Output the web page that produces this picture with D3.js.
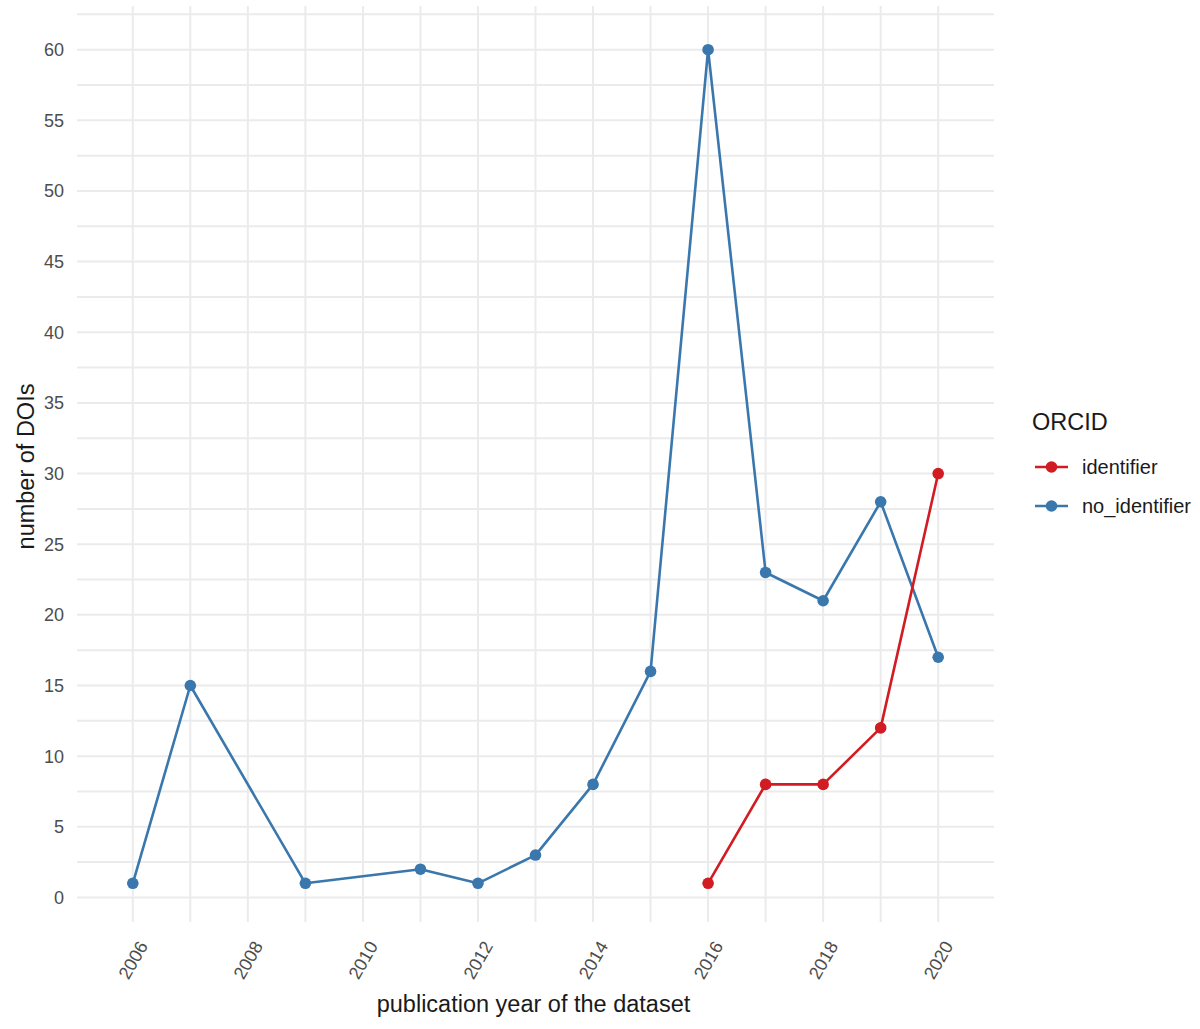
<!DOCTYPE html>
<html>
<head>
<meta charset="utf-8">
<script src="https://cdn.jsdelivr.net/npm/d3@7"></script>
<style>
  body { margin: 0; background: #ffffff; }
  svg { display: block; font-family: "Liberation Sans", Arial, sans-serif; }
</style>
</head>
<body>
<script>
// data
const noIdYears = [2006, 2007, 2009, 2011, 2012, 2013, 2014, 2015, 2016, 2017, 2018, 2019, 2020];
const noIdCounts = [1, 15, 1, 2, 1, 3, 8, 16, 60, 23, 21, 28, 17];
const idYears = [2016, 2017, 2018, 2019, 2020];
const idCounts = [1, 8, 8, 12, 30];
const xTicks = [2006, 2008, 2010, 2012, 2014, 2016, 2018, 2020];
const yTicks = [0, 5, 10, 15, 20, 25, 30, 35, 40, 45, 50, 55, 60];
const seriesNames = ['identifier', 'no_identifier'];

const palette = {
  identifier: '#d01c22',
  no_identifier: '#3a77ad',
  grid: '#ebebeb',
  tick: '#4d4d4d',
  text: '#1a1a1a'
};

const width = 1200;
const height = 1029;
const panel = { left: 77, right: 994, top: 8, bottom: 925 };

const svg = d3.select('body').append('svg')
  .attr('width', width)
  .attr('height', height);

const x = d3.scaleLinear()
  .domain([2005.03, 2020.97])
  .range([panel.left, panel.right]);

const y = d3.scaleLinear()
  .domain([-1.95, 62.95])
  .range([panel.bottom, panel.top]);

// grid
const grid = svg.append('g').attr('stroke', palette.grid).attr('stroke-width', 2);
const yGrid = d3.range(0, 62.6, 2.5);
grid.selectAll('line.h')
  .data(yGrid)
  .enter()
  .append('line')
  .attr('x1', panel.left)
  .attr('x2', panel.right)
  .attr('y1', d => y(d))
  .attr('y2', d => y(d));

const xGrid = d3.range(2006, 2021);
grid.selectAll('line.v')
  .data(xGrid)
  .enter()
  .append('line')
  .attr('y1', panel.top - 2)
  .attr('y2', panel.bottom - 3)
  .attr('x1', d => x(d))
  .attr('x2', d => x(d));

// y tick labels
svg.append('g')
  .selectAll('text')
  .data(yTicks)
  .enter()
  .append('text')
  .attr('x', 64)
  .attr('y', d => y(d))
  .attr('dy', '0.36em')
  .attr('text-anchor', 'end')
  .attr('font-size', 18)
  .attr('fill', palette.tick)
  .text(d => d);

// x tick labels, rotated
svg.append('g')
  .selectAll('text')
  .data(xTicks)
  .enter()
  .append('text')
  .attr('transform', d => `translate(${x(d)},960) rotate(-60)`)
  .attr('text-anchor', 'middle')
  .attr('dy', '0.36em')
  .attr('font-size', 18)
  .attr('fill', palette.tick)
  .text(d => d);

// axis titles
svg.append('text')
  .attr('x', (panel.left + panel.right) / 2 - 2)
  .attr('y', 1012)
  .attr('text-anchor', 'middle')
  .attr('font-size', 23.5)
  .attr('fill', palette.text)
  .text('publication year of the dataset');

svg.append('text')
  .attr('transform', `translate(34,${(panel.top + panel.bottom) / 2}) rotate(-90)`)
  .attr('text-anchor', 'middle')
  .attr('font-size', 23.5)
  .attr('fill', palette.text)
  .text('number of DOIs');

// series
const series = [
  { name: 'no_identifier', values: noIdYears.map((yr, i) => ({ year: yr, count: noIdCounts[i] })) },
  { name: 'identifier', values: idYears.map((yr, i) => ({ year: yr, count: idCounts[i] })) }
];

const line = d3.line()
  .x(d => x(d.year))
  .y(d => y(d.count));

series.forEach(s => {
  svg.append('path')
    .datum(s.values)
    .attr('fill', 'none')
    .attr('stroke', palette[s.name])
    .attr('stroke-width', 2.6)
    .attr('stroke-linejoin', 'round')
    .attr('d', line);

  svg.append('g')
    .selectAll('circle')
    .data(s.values)
    .enter()
    .append('circle')
    .attr('cx', d => x(d.year))
    .attr('cy', d => y(d.count))
    .attr('r', 5.8)
    .attr('fill', palette[s.name]);
});

// legend
const legend = svg.append('g').attr('transform', 'translate(1032,0)');
legend.append('text')
  .attr('x', 0)
  .attr('y', 430)
  .attr('font-size', 23.5)
  .attr('fill', palette.text)
  .text('ORCID');

const keys = legend.selectAll('g.key')
  .data(seriesNames)
  .enter()
  .append('g')
  .attr('transform', (d, i) => `translate(0,${467 + i * 39})`);

keys.append('line')
  .attr('x1', 3)
  .attr('x2', 36)
  .attr('stroke', d => palette[d])
  .attr('stroke-width', 2.6);

keys.append('circle')
  .attr('cx', 19.5)
  .attr('r', 5.8)
  .attr('fill', d => palette[d]);

keys.append('text')
  .attr('x', 50)
  .attr('dy', '0.36em')
  .attr('font-size', 20)
  .attr('fill', palette.text)
  .text(d => d);
</script>
</body>
</html>
